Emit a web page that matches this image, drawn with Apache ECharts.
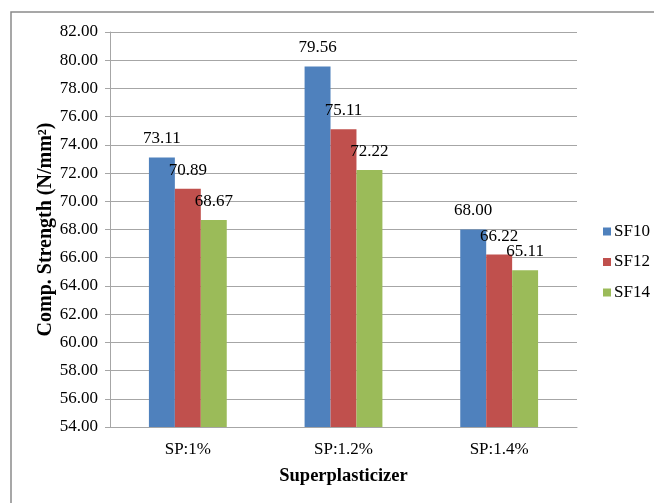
<!DOCTYPE html>
<html>
<head>
<meta charset="utf-8">
<script src="https://cdn.jsdelivr.net/npm/echarts@6/dist/echarts.min.js"></script>
<style>
  html, body { margin: 0; padding: 0; background: #ffffff; }
  #chart { width: 654px; height: 503px; }
</style>
</head>
<body>
<div id="chart"></div>
<script>
// Compressive strength by superplasticizer dosage
const categories = ['SP:1%', 'SP:1.2%', 'SP:1.4%'];
const sf10 = [73.11, 79.56, 68.00];
const sf12 = [70.89, 75.11, 66.22];
const sf14 = [68.67, 72.22, 65.11];
const seriesNames = ['SF10', 'SF12', 'SF14'];
const colors = ['#4F81BD', '#C0504D', '#9BBB59'];

const serif = '"Liberation Serif", "Times New Roman", serif';

const chart = echarts.init(document.getElementById('chart'), null, { renderer: 'canvas' });

function barSeries(name, data, color) {
  return {
    name: name,
    type: 'bar',
    data: data,
    barGap: '0%',
    barCategoryGap: '50%',
    itemStyle: { color: color },
    label: {
      show: true,
      position: 'top',
      distance: 10,
      color: '#000',
      fontFamily: serif,
      fontSize: 17,
      formatter: p => p.value.toFixed(2)
    }
  };
}

chart.setOption({
  animation: false,
  backgroundColor: '#ffffff',
  color: colors,
  graphic: [{
    type: 'rect',
    shape: { x: 11, y: 12, width: 660, height: 510 },
    style: { fill: 'none', stroke: '#8a8a8a', lineWidth: 1.5 },
    z: -1
  }],
  grid: { left: 110, right: 77, top: 32, bottom: 76 },
  legend: {
    orient: 'vertical',
    left: 603,
    top: 223,
    padding: 0,
    itemWidth: 8,
    itemHeight: 8,
    itemGap: 13.5,
    icon: 'rect',
    textStyle: { fontFamily: serif, fontSize: 17, color: '#000', padding: [0, 0, 0, -2] },
    data: seriesNames
  },
  xAxis: {
    type: 'category',
    data: categories,
    axisLine: { lineStyle: { color: '#a6a6a6', width: 1 } },
    axisTick: { show: false },
    axisLabel: { fontFamily: serif, fontSize: 17, color: '#000', margin: 14 },
    name: 'Superplasticizer',
    nameLocation: 'middle',
    nameGap: 40,
    nameMoveOverlap: false,
    nameTextStyle: { fontFamily: serif, fontSize: 18.5, fontWeight: 'bold', color: '#000' }
  },
  yAxis: {
    type: 'value',
    min: 54,
    max: 82,
    interval: 2,
    axisLine: { show: true, lineStyle: { color: '#a6a6a6', width: 1 } },
    axisTick: { show: true, length: 5, lineStyle: { color: '#a6a6a6' } },
    splitLine: { lineStyle: { color: '#a6a6a6', width: 1 } },
    axisLabel: {
      fontFamily: serif,
      fontSize: 17,
      color: '#000',
      margin: 12,
      formatter: v => v.toFixed(2)
    },
    name: 'Comp. Strength (N/mm²)',
    nameLocation: 'middle',
    nameGap: 54,
    nameMoveOverlap: false,
    nameTextStyle: { fontFamily: serif, fontSize: 20, fontWeight: 'bold', color: '#000' }
  },
  series: [
    barSeries(seriesNames[0], sf10, colors[0]),
    barSeries(seriesNames[1], sf12, colors[1]),
    barSeries(seriesNames[2], sf14, colors[2])
  ]
});
</script>
</body>
</html>
